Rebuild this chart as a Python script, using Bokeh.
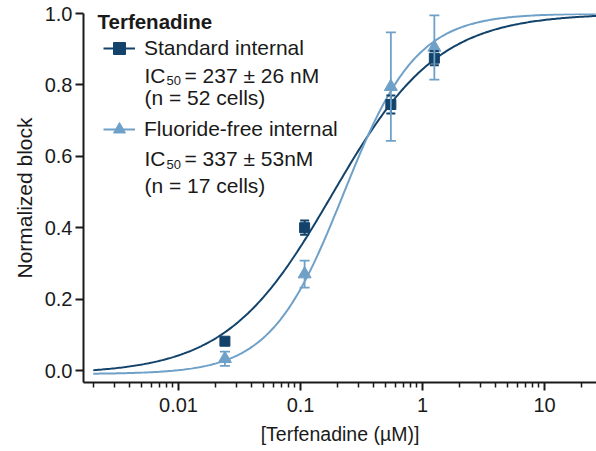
import numpy as np
from bokeh.plotting import figure
from bokeh.models import (Range1d, FixedTicker, CustomJSTickFormatter, PrintfTickFormatter,
                          Whisker, TeeHead, ColumnDataSource, Legend, LegendItem, Label)
from bokeh.embed import file_html
from bokeh.resources import INLINE

# ---- data ----
conc_um = [0.024, 0.108, 0.55, 1.25]
std_block = [0.082, 0.400, 0.745, 0.875]
std_err = [0.008, 0.020, 0.025, 0.020]
ff_block = [0.033, 0.270, 0.795, 0.905]
ff_err = [0.020, 0.038, 0.152, 0.090]

# fitted curve parameters (as drawn)
std_fit_ic50 = 0.183
std_fit_hill = 1.0
ff_fit_ic50 = 0.225
ff_fit_hill = 1.45
fit_bottom = -0.01
curve_start = 0.002

x_major = [0.01, 0.1, 1, 10]
x_minor = [m * d for d in [0.001, 0.01, 0.1, 1, 10] for m in range(2, 10)]
y_ticks = [0.0, 0.2, 0.4, 0.6, 0.8, 1.0]

DARK = "#13436a"
LIGHT = "#6fa0c8"
FONT = "Liberation Sans"
AX = "#1a1a1a"

x_start, x_end = 10 ** -2.779, 10 ** 1.426


def hill(x, ic50, n, bottom):
    return bottom + (1 - bottom) / (1 + (ic50 / x) ** n)


xs = np.logspace(np.log10(curve_start), np.log10(x_end), 300)

p = figure(width=596, height=451, x_axis_type="log",
           x_range=Range1d(x_start, x_end), y_range=Range1d(-0.0336, 1.0),
           output_backend="svg", toolbar_location=None,
           min_border_left=83, min_border_right=0, min_border_top=13, min_border_bottom=69)
p.xgrid.visible = False
p.ygrid.visible = False
p.outline_line_color = None
p.background_fill_color = "white"
p.border_fill_color = "white"

# axes
for ax in (p.xaxis[0], p.yaxis[0]):
    ax.axis_line_width = 2
    ax.axis_line_color = AX
    ax.major_tick_line_width = 2
    ax.major_tick_line_color = AX
    ax.minor_tick_line_width = 1.5
    ax.minor_tick_line_color = AX
    ax.major_tick_in = 0
    ax.minor_tick_in = 0
    ax.major_label_text_font = FONT
    ax.major_label_text_font_size = "20px"
    ax.major_label_text_color = AX
    ax.axis_label_text_font = FONT
    ax.axis_label_text_font_style = "normal"
    ax.axis_label_text_color = AX

p.xaxis.ticker = FixedTicker(ticks=x_major, minor_ticks=x_minor)
p.xaxis.formatter = CustomJSTickFormatter(code="return tick.toString();")
p.xaxis.major_tick_out = 8
p.xaxis.minor_tick_out = 5
p.xaxis.major_label_standoff = 7
p.xaxis.axis_label = "[Terfenadine (\u00b5M)]"
p.xaxis.axis_label_text_font_size = "19.5px"
p.xaxis.axis_label_standoff = 8

p.yaxis.ticker = FixedTicker(ticks=y_ticks, minor_ticks=[])
p.yaxis.formatter = PrintfTickFormatter(format="%.1f")
p.yaxis.major_tick_out = 8
p.yaxis.minor_tick_out = 0
p.yaxis.major_label_standoff = 3
p.yaxis.axis_label = "Normalized block"
p.yaxis.axis_label_text_font_size = "21px"
p.yaxis.axis_label_standoff = 6

# curves
std_curve = p.line(xs, hill(xs, std_fit_ic50, std_fit_hill, fit_bottom), line_color=DARK, line_width=2)
ff_curve = p.line(xs, hill(xs, ff_fit_ic50, ff_fit_hill, fit_bottom), line_color=LIGHT, line_width=2)

std_src = ColumnDataSource(dict(x=conc_um, y=std_block,
                                lo=[a - b for a, b in zip(std_block, std_err)],
                                hi=[a + b for a, b in zip(std_block, std_err)]))
ff_src = ColumnDataSource(dict(x=conc_um, y=ff_block,
                               lo=[a - b for a, b in zip(ff_block, ff_err)],
                               hi=[a + b for a, b in zip(ff_block, ff_err)]))

std_w = Whisker(base="x", lower="lo", upper="hi", source=std_src, line_color=DARK, line_width=2,
                upper_head=TeeHead(size=9, line_color=DARK, line_width=2),
                lower_head=TeeHead(size=9, line_color=DARK, line_width=2), level="glyph")
p.add_layout(std_w)
std_pts = p.scatter("x", "y", source=std_src, marker="square", size=10, fill_color=DARK, line_color=DARK)

ff_w = Whisker(base="x", lower="lo", upper="hi", source=ff_src, line_color=LIGHT, line_width=1.8,
               upper_head=TeeHead(size=10, line_color=LIGHT, line_width=1.8),
               lower_head=TeeHead(size=10, line_color=LIGHT, line_width=1.8), level="glyph")
p.add_layout(ff_w)
ff_pts = p.scatter("x", "y", source=ff_src, marker="triangle", size=13, fill_color=LIGHT, line_color=LIGHT)

# legend
legend = Legend(items=[LegendItem(label="Standard internal", renderers=[std_curve, std_pts]),
                       LegendItem(label="Fluoride-free internal", renderers=[ff_curve, ff_pts])],
                location="top_left", margin=0, padding=20, spacing=51,
                glyph_width=32, glyph_height=30, label_standoff=9,
                label_text_font=FONT, label_text_font_size="21px", label_text_color=AX,
                background_fill_alpha=0, border_line_alpha=0)
p.add_layout(legend)


def lab(text, x, y, size="21px", style="normal"):
    p.add_layout(Label(x=x, y=y, x_units="screen", y_units="screen", text=text,
                       text_font=FONT, text_font_size=size, text_font_style=style,
                       text_color=AX, text_baseline="alphabetic", text_align="left"))


lab("Terfenadine", 14, 361, size="20.5px", style="bold")
lab("IC", 61, 307)
lab("50", 83, 302, size="13px")
lab("= 237 \u00b1 26 nM", 101, 307)
lab("(n = 52 cells)", 61, 285)
lab("IC", 61, 224)
lab("50", 83, 218, size="13px")
lab("= 337 \u00b1 53nM", 101, 224)
lab("(n = 17 cells)", 61, 197)

open("out.html", "w").write(file_html(p, INLINE))
